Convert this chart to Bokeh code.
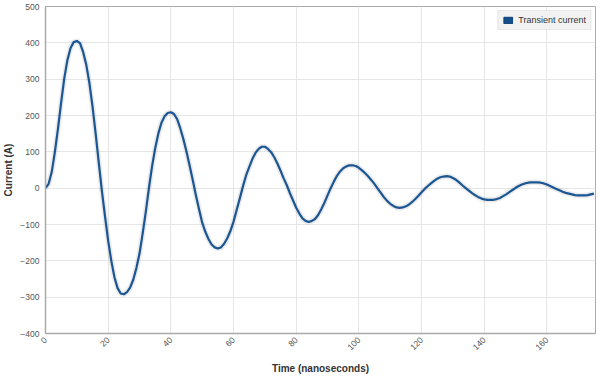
import math
from bokeh.plotting import figure
from bokeh.models import ColumnDataSource, FixedTicker, Range1d, Legend, LegendItem
from bokeh.embed import file_html
from bokeh.resources import INLINE

# Time in nanoseconds, current in amperes
time_ns = list(range(0, 176))
current_a = [
    0, 12, 45, 100, 165, 236, 303, 353, 386, 402,
    405, 399, 375, 340, 290, 225, 150, 70, -8, -78,
    -145, -200, -245, -275, -290, -292, -286, -274, -252, -220,
    -180, -125, -65, 0, 60, 110, 150, 180, 198, 207,
    209, 204, 190, 165, 135, 100, 62, 22, -20, -58,
    -95, -120, -140, -155, -163, -166, -163, -153, -138, -118,
    -92, -60, -28, 5, 35, 58, 80, 97, 108, 114,
    114, 108, 99, 85, 68, 48, 27, 8, -14, -34,
    -54, -70, -83, -90, -93, -90, -85, -74, -58, -40,
    -20, 0, 18, 34, 46, 55, 60, 63, 63, 61,
    56, 49, 41, 32, 22, 11, -1, -13, -25, -35,
    -43, -49, -53, -54, -53, -50, -45, -38, -30, -21,
    -11, -2, 6, 13, 20, 26, 30, 32, 33, 32,
    28, 23, 16, 8, 1, -6, -13, -19, -24, -28,
    -31, -32, -32, -32, -30, -27, -22, -17, -11, -5,
    1, 6, 10, 13, 15, 16, 16, 16, 15, 13,
    10, 6, 2, -2, -6, -10, -13, -15, -17, -19,
    -20, -20, -20, -19, -17, -15,
]
x_ticks = [0, 20, 40, 60, 80, 100, 120, 140, 160]
y_ticks = [-400, -300, -200, -100, 0, 100, 200, 300, 400, 500]
series_name = "Transient current"

src = ColumnDataSource(dict(t=time_ns, i=current_a))
nan = float("nan")
swatch_src = ColumnDataSource(dict(l=[nan], r=[nan], t=[nan], b=[nan]))

p = figure(width=600, height=377, output_backend="svg", toolbar_location=None,
           x_range=Range1d(0, 175.5), y_range=Range1d(-400, 500),
           min_border_left=44, min_border_right=5, min_border_top=6, min_border_bottom=44)

FONT = "Liberation Sans"
line_col = "#1b5694"

# soft shadow under the line
p.line("t", "i", source=src, line_color="#000000", line_alpha=0.08, line_width=5.5)
main = p.line("t", "i", source=src, line_color=line_col, line_width=2.2, line_join="round")

# rectangle swatch for the legend
sw = p.quad(left="l", right="r", top="t", bottom="b", source=swatch_src,
            fill_color="#124f8c", line_color="#0d3f73")
legend = Legend(items=[LegendItem(label=series_name, renderers=[sw], index=0)], location="top_right")
legend.label_text_font = FONT
legend.label_text_font_size = "9px"
legend.label_text_color = "#333333"
legend.glyph_width = 11
legend.glyph_height = 8
legend.padding = 4
legend.margin = 4
legend.spacing = 0
legend.label_standoff = 5
legend.label_height = 9
legend.background_fill_color = "#f2f2f2"
legend.background_fill_alpha = 1
legend.border_line_color = "#dddddd"
p.add_layout(legend)

p.xaxis.ticker = FixedTicker(ticks=x_ticks)
p.yaxis.ticker = FixedTicker(ticks=y_ticks)
p.xaxis.major_label_orientation = math.pi / 4
p.xaxis.axis_label = "Time (nanoseconds)"
p.yaxis.axis_label = "Current (A)"

for ax in (p.xaxis, p.yaxis):
    ax.axis_label_text_font = FONT
    ax.axis_label_text_font_size = "10px"
    ax.axis_label_text_font_style = "bold"
    ax.axis_label_text_color = "#333333"
    ax.major_label_text_font = FONT
    ax.major_label_text_font_size = "8.5px"
    ax.major_label_text_color = "#555555"
    ax.major_tick_line_color = None
    ax.minor_tick_line_color = None
    ax.major_tick_out = 0
    ax.major_tick_in = 0
    ax.minor_tick_out = 0
    ax.minor_tick_in = 0
    ax.axis_line_color = "#aaaaaa"
    ax.axis_line_width = 1.5

p.yaxis.major_label_standoff = 6
p.yaxis.axis_label_standoff = 3
p.xaxis.major_label_standoff = 5
p.xaxis.axis_label_standoff = 7

p.xgrid.grid_line_color = "#e6e6e6"
p.ygrid.grid_line_color = "#e6e6e6"
p.outline_line_color = "#aaaaaa"
p.outline_line_width = 1
p.background_fill_color = "#ffffff"
p.border_fill_color = "#ffffff"

open("out.html", "w").write(file_html(p, INLINE))
